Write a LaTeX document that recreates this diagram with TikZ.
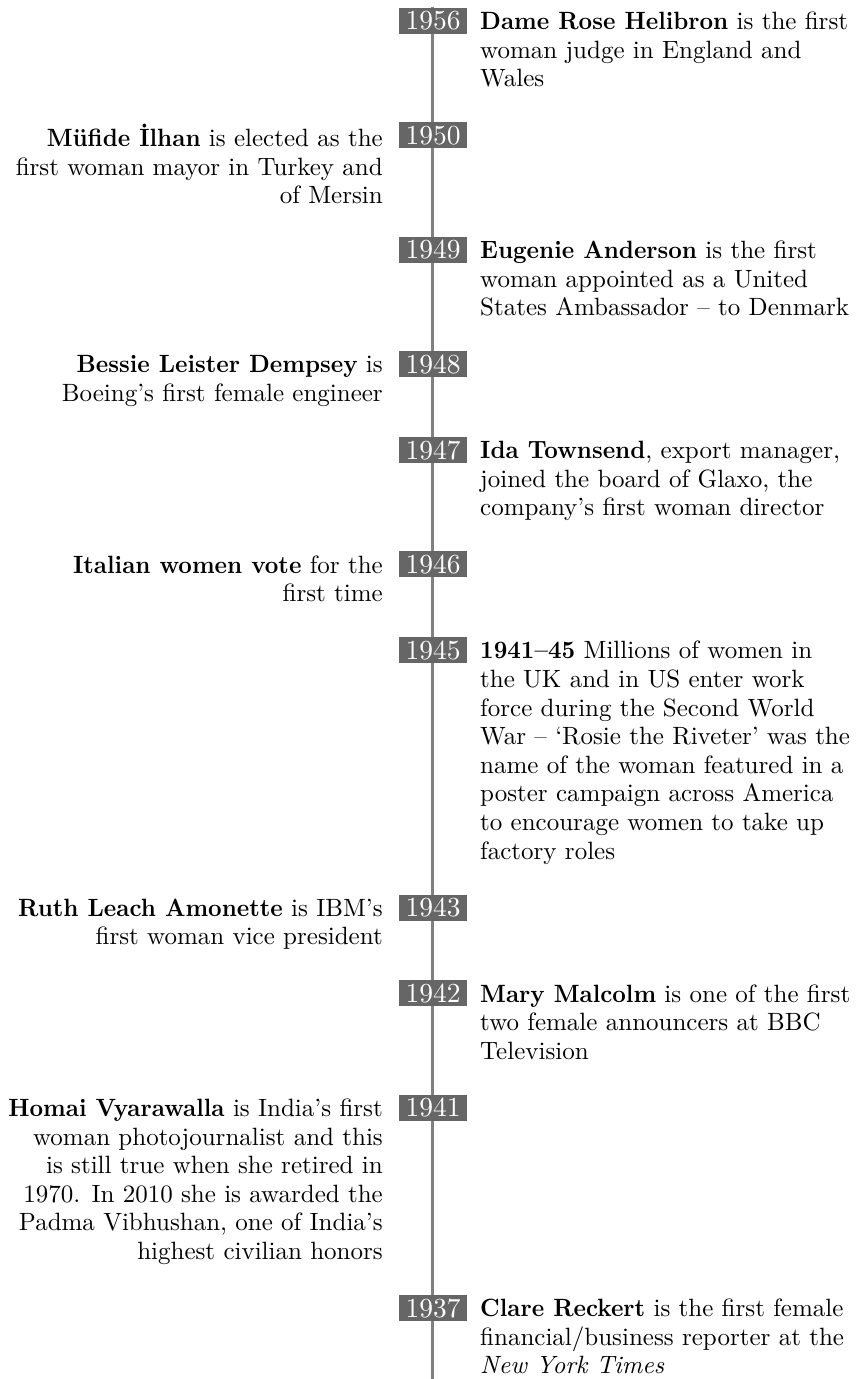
\documentclass[tikz,border=0pt]{standalone}
\usepackage{fontspec}
% 10pt design cuts of Latin Modern: sturdier strokes at large sizes;
% the extended bold is narrowed a little so it sits closer to the text weight
\setmainfont{lmroman10-regular}[
  Extension=.otf,
  BoldFont=lmroman10-bold,
  BoldFeatures={FakeStretch=0.945},
  ItalicFont=lmroman10-italic,
  BoldItalicFont=lmroman10-bolditalic]
\definecolor{yearfill}{HTML}{666666}
\definecolor{axisgray}{HTML}{808080}
\newcommand{\lineh}{28.6}
% fixed-height strut so a node's top edge sits a known distance above its first baseline
\newcommand{\firstline}{\rule{0pt}{20pt}}
\tikzset{
  body/.style={inner sep=0pt, font=\fontsize{25}{28.6}\selectfont, text=black},
  rightentry/.style={body, anchor=north west, align=left},
  leftentry/.style={body, anchor=north east, align=right},
  yearbox/.style={fill=yearfill, text=white, inner sep=0pt,
    minimum width=68pt, minimum height=26pt,
    font=\fontsize{27.5}{30}\selectfont},
  axis/.style={draw=axisgray, line width=3pt}
}
\begin{document}
\begin{tikzpicture}[x=1pt,y=-1pt]
\useasboundingbox (0,0) rectangle (863,1379);

% timeline axis
\coordinate (top) at (432.5,7);
\coordinate (bottom) at (432.5,1379);
\draw[axis] (top) -- (bottom);

% year markers: row n sits at 21 + n*line height
\foreach \yr/\n in {1956/0,1950/4,1949/8,1948/12,1947/15,1946/19,1945/22,1943/31,1942/34,1941/38,1937/45}{
  \node[yearbox] (y\yr) at (433,{21+\n*\lineh}) {\yr};
}

% entries to the right of the axis (first baseline at 29.5 + n*line height)
\node[rightentry] (e1956) at (480,{9.5+0*\lineh})
  {\firstline\textbf{Dame Rose Helibron} is the first\\woman judge in England and\\Wales};
\node[rightentry] (e1949) at (480,{9.5+8*\lineh})
  {\firstline\textbf{Eugenie Anderson} is the first\\woman appointed as a United\\States Ambassador – to Denmark};
\node[rightentry] (e1947) at (480,{9.5+15*\lineh})
  {\firstline\textbf{Ida Townsend}, export manager,\\joined the board of Glaxo, the\\company’s first woman director};
\node[rightentry] (e1945) at (480,{9.5+22*\lineh})
  {\firstline\textbf{1941–45} Millions of women in\\the UK and in US enter work\\force during the Second World\\War – ‘Rosie the Riveter’ was the\\name of the woman featured in a\\poster campaign across America\\to encourage women to take up\\factory roles};
\node[rightentry] (e1942) at (480,{9.5+34*\lineh})
  {\firstline\textbf{Mary Malcolm} is one of the first\\two female announcers at BBC\\Television};
\node[rightentry] (e1937) at (480,{9.5+45*\lineh})
  {\firstline\textbf{Clare Reckert} is the first female\\financial/business reporter at the\\\textit{New York Times}};

% entries to the left of the axis
\node[leftentry] (e1950) at (383,{9.5+4*\lineh})
  {\firstline\textbf{Müfide İlhan} is elected as the\\first woman mayor in Turkey and\\of Mersin};
\node[leftentry] (e1948) at (383,{9.5+12*\lineh})
  {\firstline\textbf{Bessie Leister Dempsey} is\\Boeing’s first female engineer};
\node[leftentry] (e1946) at (383,{9.5+19*\lineh})
  {\firstline\textbf{Italian women vote} for the\\first time};
\node[leftentry] (e1943) at (383,{9.5+31*\lineh})
  {\firstline\textbf{Ruth Leach Amonette} is IBM’s\\first woman vice president};
\node[leftentry] (e1941) at (383,{9.5+38*\lineh})
  {\firstline\textbf{Homai Vyarawalla} is India’s first\\woman photojournalist and this\\is still true when she retired in\\1970. In 2010 she is awarded the\\Padma Vibhushan, one of India’s\\highest civilian honors};
\end{tikzpicture}
\end{document}
